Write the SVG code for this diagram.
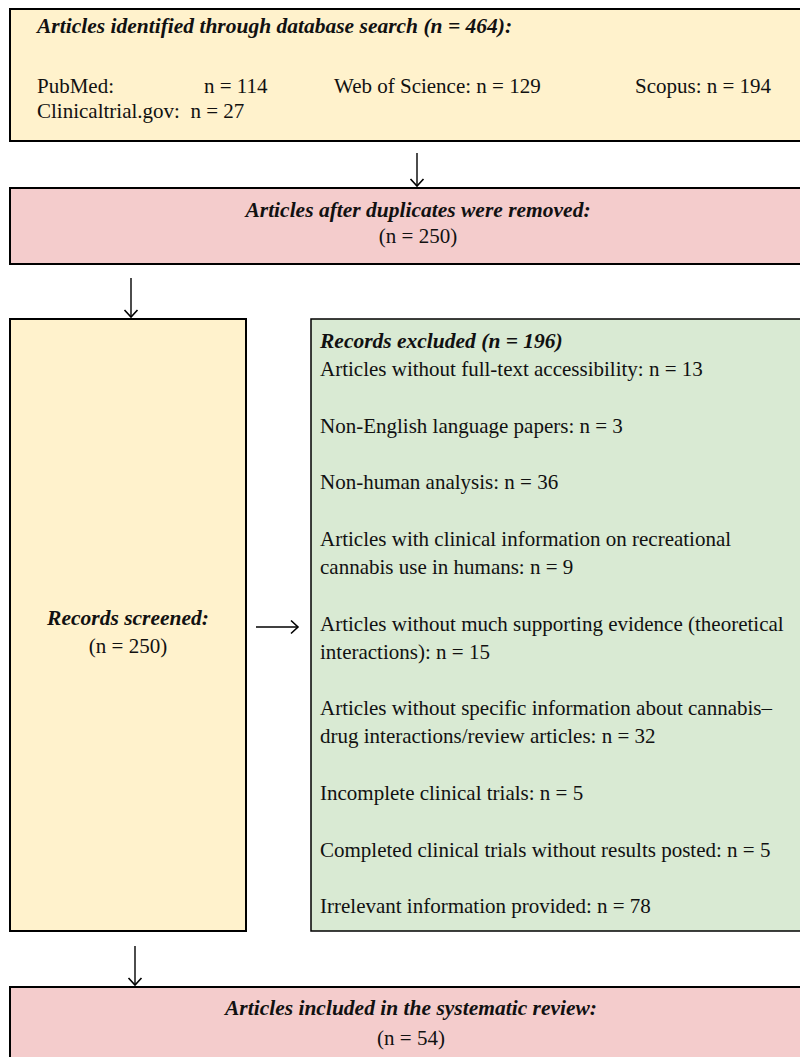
<svg xmlns="http://www.w3.org/2000/svg" width="800" height="1057" viewBox="0 0 800 1057">
<defs>
<style>
.t{font-family:"Liberation Serif","Times New Roman",serif;font-size:21px;fill:#111}
.bi{font-weight:bold;font-style:italic;font-size:21.5px}
.c{text-anchor:middle}
.pre{white-space:pre}
.y{fill:#FFF2CC;stroke:#000;stroke-width:2}
.p{fill:#F4CCCC;stroke:#000;stroke-width:2}
.g{fill:#D9EAD3;stroke:#000;stroke-width:1.5}
.ln{stroke:#000;stroke-width:1.4;fill:none}
</style>
<marker id="ah" markerUnits="userSpaceOnUse" markerWidth="16" markerHeight="16" viewBox="-8 -8 16 16" refX="0" refY="0" orient="auto">
<polyline points="-7,-6.5 0,0 -7,6.5" fill="none" stroke="#000" stroke-width="1.6"/>
</marker>
</defs>
<rect width="800" height="1057" fill="#fff"/>
<g id="identified">
<rect class="y" x="10" y="9" width="800" height="132"/>
<text class="t bi" x="37" y="33">Articles identified through database search (n = 464):</text>
<text class="t" x="37" y="93">PubMed:</text>
<text class="t" x="204" y="93">n = 114</text>
<text class="t" x="334" y="93">Web of Science: n = 129</text>
<text class="t" x="635" y="93">Scopus: n = 194</text>
<text class="t pre" x="37" y="118">Clinicaltrial.gov:  n = 27</text>
</g>
<g id="deduplicated">
<rect class="p" x="10" y="188" width="800" height="76"/>
<text class="t bi c" x="418" y="217">Articles after duplicates were removed:</text>
<text class="t c" x="418" y="243">(n = 250)</text>
</g>
<g id="screened">
<rect class="y" x="10" y="319" width="236" height="612"/>
<text class="t bi c" x="128" y="625">Records screened:</text>
<text class="t c" x="128" y="653">(n = 250)</text>
</g>
<g id="excluded">
<rect class="g" x="311" y="319" width="500" height="612"/>
<text class="t bi" x="320" y="348">Records excluded (n = 196)</text>
<text class="t" x="320" y="376">Articles without full-text accessibility: n = 13</text>
<text class="t" x="320" y="433">Non-English language papers: n = 3</text>
<text class="t" x="320" y="489">Non-human analysis: n = 36</text>
<text class="t" x="320" y="546">Articles with clinical information on recreational</text>
<text class="t" x="320" y="574">cannabis use in humans: n = 9</text>
<text class="t" x="320" y="631">Articles without much supporting evidence (theoretical</text>
<text class="t" x="320" y="659">interactions): n = 15</text>
<text class="t" x="320" y="715">Articles without specific information about cannabis–</text>
<text class="t" x="320" y="743">drug interactions/review articles: n = 32</text>
<text class="t" x="320" y="800">Incomplete clinical trials: n = 5</text>
<text class="t" x="320" y="857">Completed clinical trials without results posted: n = 5</text>
<text class="t" x="320" y="913">Irrelevant information provided: n = 78</text>
</g>
<g id="included">
<rect class="p" x="10" y="987" width="800" height="100"/>
<text class="t bi c" x="411" y="1015">Articles included in the systematic review:</text>
<text class="t c" x="411" y="1045">(n = 54)</text>
</g>
<g id="connectors">
<line class="ln" x1="417" y1="153" x2="417" y2="186" marker-end="url(#ah)"/>
<line class="ln" x1="131" y1="278" x2="131" y2="317" marker-end="url(#ah)"/>
<line class="ln" x1="256" y1="627" x2="298" y2="627" marker-end="url(#ah)"/>
<line class="ln" x1="135" y1="946" x2="135" y2="985" marker-end="url(#ah)"/>
</g>
</svg>
